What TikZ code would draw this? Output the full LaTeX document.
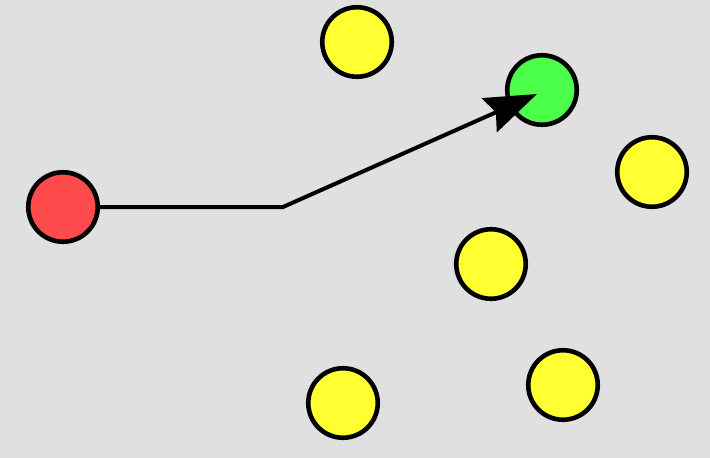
\documentclass[tikz,border=0pt]{standalone}
\usetikzlibrary{arrows.meta}
\definecolor{bg}{RGB}{224,224,224}
\definecolor{cred}{RGB}{255,75,75}
\definecolor{cgreen}{RGB}{75,255,75}
\definecolor{cyellow}{RGB}{255,255,50}
\begin{document}
\begin{tikzpicture}[x=1pt,y=-1pt,
  dot/.style={circle,draw=black,line width=4.6pt,minimum size=69.5pt,inner sep=0pt},
  link/.style={line width=4pt,-{Stealth[length=52pt,width=37pt,inset=7pt]}}]
\fill[bg] (0,0) rectangle (710,458);
\useasboundingbox (0,0) rectangle (710,458);
\node[dot,fill=cred] (r) at (63,207) {};
\node[dot,fill=cgreen] (g) at (542,90) {};
\node[dot,fill=cyellow] (y1) at (357,42) {};
\node[dot,fill=cyellow] (y2) at (652,172) {};
\node[dot,fill=cyellow] (y3) at (491,264) {};
\node[dot,fill=cyellow] (y4) at (563,385) {};
\node[dot,fill=cyellow] (y5) at (343,403) {};
\coordinate (bend) at (283,207);
\coordinate (tip) at (537,94);
\draw[link] (r.east) -- (bend) -- (tip);
\end{tikzpicture}
\end{document}
